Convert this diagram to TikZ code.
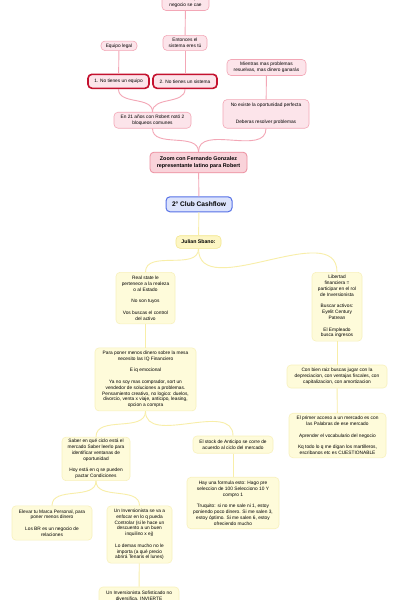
\documentclass[tikz,border=0pt]{standalone}
\usepackage{fontspec}
\setmainfont{Liberation Sans}
\usetikzlibrary{positioning}

\definecolor{rosa}{HTML}{FCE4EA}
\definecolor{rosaborde}{HTML}{F3A7B6}
\definecolor{rosafuerte}{HTML}{F9D3DA}
\definecolor{rosaoscuro}{HTML}{EC8D9E}
\definecolor{rojo}{HTML}{C4122F}
\definecolor{azul}{HTML}{DCE3FC}
\definecolor{azulborde}{HTML}{5570E6}
\definecolor{amarillo}{HTML}{FEFBDA}
\definecolor{amarilloborde}{HTML}{F8F1BC}
\definecolor{amarillofuerte}{HTML}{FDF6C4}
\definecolor{amarillooscuro}{HTML}{F3E68C}
\definecolor{lineaamarilla}{HTML}{F8EEA8}

\newcommand\mapfont{\fontsize{4.8}{5.8}\selectfont}
\newcommand\mapbold{\fontsize{5.4}{6.9}\selectfont\bfseries}

\begin{document}
\begin{tikzpicture}[
				x=1pt, y=-1pt,
				idea/.style={rectangle, rounded corners=4pt, align=center, font=\mapfont, inner sep=2pt, line width=0.6pt},
				rosabox/.style={idea, draw=rosaborde, fill=rosa},
				rojobox/.style={idea, draw=rojo, fill=rosa, line width=1.6pt},
				zoombox/.style={idea, draw=rosaoscuro, fill=rosafuerte, line width=0.8pt, font=\mapbold},
				clubbox/.style={idea, draw=azulborde, fill=azul, line width=1pt, font=\fontsize{6.6}{7}\selectfont\bfseries},
				amarbox/.style={idea, draw=amarilloborde, fill=amarillo},
				julianbox/.style={idea, draw=amarillooscuro, fill=amarillofuerte, font=\fontsize{5.2}{6}\selectfont\bfseries},
				rosaline/.style={draw=rosaborde, line width=0.9pt},
				amarline/.style={draw=lineaamarilla, line width=0.9pt}
			]
				\useasboundingbox (0,0) rectangle (400,600);
				\fill[white] (0,0) rectangle (400,600);
				% rama rosa
				\node[rosabox, minimum width=47pt, minimum height=16pt] (top)       at (185.5,2.5)   {Si te vas tú, el\\negocio se cae};
				\node[rosabox, minimum width=44pt, minimum height=15pt] (entonces)  at (185,42.9)    {Entonces el\\sistema eres tú};
				\node[rosabox, minimum width=36pt, minimum height=9.5pt] (equipo)   at (119,45.8)    {Equipo legal};
				\node[rojobox, minimum width=61pt, minimum height=14pt] (noequipo)  at (118.5,81.3)  {1. No tienes un equipo};
				\node[rojobox, minimum width=64pt, minimum height=14pt] (nosistema) at (185,81.3)    {2. No tienes un sistema};
				\node[rosabox, minimum width=79pt, minimum height=16pt] (mientras)  at (266.5,67.5)  {Mientras mas problemas\\resuelvas, mas dinero ganarás};
				\node[rosabox, minimum width=86pt, minimum height=28.6pt] (noexiste) at (266,113.9)  {No existe la oportunidad perfecta\\[11.4pt]Deberas resolver problemas};
				\node[rosabox, minimum width=77pt, minimum height=16pt] (en21)      at (152.5,120.2) {En 21 años con Robert notó 2\\bloqueos comunes};
				\node[zoombox, minimum width=97pt, minimum height=20.6pt] (zoom)    at (198.5,162.5) {Zoom con Fernando Gonzalez\\representante latino para Robert};
				% centro
				\node[clubbox, minimum width=66pt, minimum height=15pt] (cashflow)  at (199,204.3)   {2° Club Cashflow};
				% rama amarilla
				\node[julianbox, minimum width=45pt, minimum height=12.6pt] (julian) at (198.5,242)  {Julian Sbano:};
				\node[amarbox, minimum width=59pt, minimum height=51.5pt] (realstate) at (145.5,298.1) {Real state le\\pertenece a la realeza\\o al Estado\\[5.8pt]No son tuyos\\[5.8pt]Vos buscas el control\\del activo};
				\node[amarbox, minimum width=50pt, minimum height=68.7pt] (libertad)  at (337,306.7)   {Libertad\\financiera =\\participar en el rol\\de Inversionista\\[5.8pt]Buscar activos:\\Eyelit Century\\Patrean\\[5.8pt]El Empleado\\busca ingresos};
				\node[amarbox, minimum width=101pt, minimum height=63pt] (paraponer)  at (145.5,379.4) {Para poner menos dinero sobre la mesa\\necesito las IQ Financiero\\[5.8pt]E iq emocional\\[5.8pt]Ya no soy mas comprador, sort un\\vendedor de soluciones a problemas.\\Pensamiento creativo, no logico: duelos,\\divorcio, venta x viaje, anticipo, leasing,\\opcion a compra};
				\node[amarbox, minimum width=100pt, minimum height=23pt] (conbien)    at (337,376.5)   {Con bien raiz buscas jugar con la\\depreciacion, con ventajas fiscales, con\\capitalizacion, con amortizacion};
				\node[amarbox, minimum width=97pt, minimum height=44.6pt] (primer)    at (337.5,435.5) {El primer acceso a un mercado es con\\las Palabras de ese mercado\\[5.8pt]Aprender el vocabulario del negocio\\[5.8pt]Kq todo lo q me digan los martilleros,\\escribanos etc es CUESTIONABLE};
				\node[amarbox, minimum width=68pt, minimum height=43.5pt] (saber)     at (96,458.9)    {Saber en qué ciclo está el\\mercado Saber leerlo para\\identificar ventanas de\\oportunidad\\[5.8pt]Hoy está en q se pueden\\pactar Condiciones};
				\node[amarbox, minimum width=80pt, minimum height=17.2pt] (stock)     at (233,444.6)   {El stock de Anticipo se corre de\\acuerdo al ciclo del mercado};
				\node[amarbox, minimum width=92pt, minimum height=51.5pt] (formula)   at (233,503)     {Hay una formula esto: Hago pre\\seleccion de 100 Selecciono 10 Y\\compro 1\\[5.8pt]Truquito: si no me sale ni 1, estoy\\poniendo poco dinero. Si me salen 3,\\estoy óptimo. Si me salen 6, estoy\\ofreciendo mucho};
				\node[amarbox, minimum width=80pt, minimum height=34.3pt] (elevar)    at (52,523)      {Elevar tu Marca Personal, para\\poner menos dinero\\[5.8pt]Los BR es un negocio de\\relaciones};
				\node[amarbox, minimum width=65pt, minimum height=57.2pt] (uninv)     at (139.5,534.5) {Un Inversionista se va a\\enfocar en lo q pueda\\Controlar (si le hace un\\descuento a un buen\\inquilino x ej)\\[5.8pt]Lo demas mucho no le\\importa (a qué precio\\abrirá Tenaris el lunes)};
				\node[amarbox, minimum width=80pt, minimum height=18pt] (sofist)      at (139,596)     {Un Inversionista Sofisticado no\\diversifica. INVIERTE};
				% conectores rosa
				\draw[rosaline] (top) -- (entonces);
				\draw[rosaline] (entonces) -- (nosistema);
				\draw[rosaline] (equipo) -- (noequipo);
				\draw[rosaline] (mientras) -- (noexiste);
				\draw[rosaline] (noequipo.south)  to[out=-90, in=90] (en21.north);
				\draw[rosaline] (nosistema.south) to[out=-90, in=90] (en21.north);
				\draw[rosaline] (en21.south)      to[out=-90, in=90] (zoom.north);
				\draw[rosaline] (noexiste.south)  to[out=-90, in=90] (zoom.north);
				\draw[rosaline] (zoom) -- (cashflow);
				% conectores amarillos
				\draw[amarline] (cashflow) -- (julian);
				\draw[amarline] (julian.south)    to[out=-90, in=90] (realstate.north);
				\draw[amarline] (julian.south)    to[out=-90, in=90] (libertad.north);
				\draw[amarline] (realstate) -- (paraponer);
				\draw[amarline] (libertad) -- (conbien);
				\draw[amarline] (conbien) -- (primer);
				\draw[amarline] (paraponer.south) to[out=-90, in=90] (saber.north);
				\draw[amarline] (paraponer.south) to[out=-90, in=90] (stock.north);
				\draw[amarline] (stock) -- (formula);
				\draw[amarline] (saber.south)     to[out=-90, in=90] (elevar.north);
				\draw[amarline] (saber.south)     to[out=-90, in=90] (uninv.north);
				\draw[amarline] (uninv) -- (sofist);
			\end{tikzpicture}
\end{document}
